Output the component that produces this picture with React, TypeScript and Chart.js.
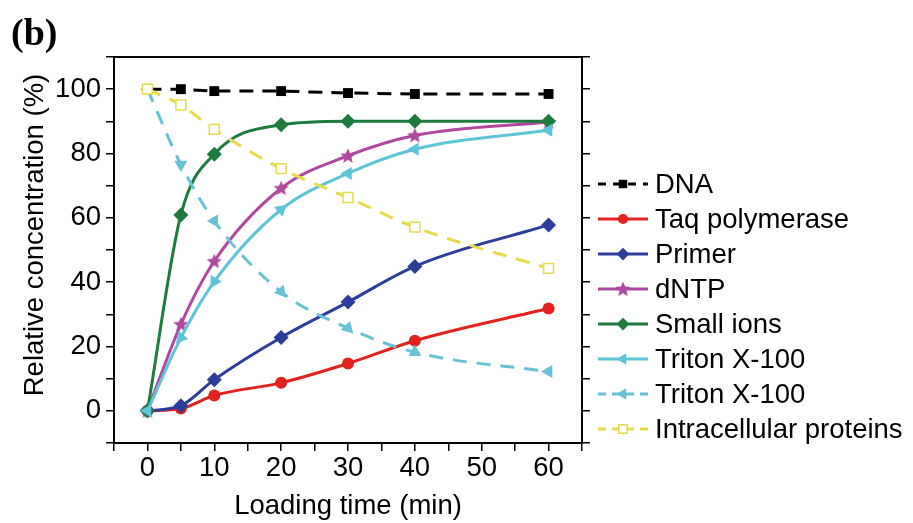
import React, { useEffect, useRef } from 'react';
import { Chart, registerables } from 'chart.js';
import { drawPoint } from 'chart.js/helpers';

Chart.register(...registerables);

const times = [0, 5, 10, 20, 30, 40, 60];
const dna = [100, 100, 99.4, 99.4, 98.8, 98.5, 98.5];
const taq = [0, 0.7, 4.8, 8.7, 14.7, 21.8, 31.8];
const primer = [0, 1.6, 9.7, 22.8, 33.8, 44.9, 57.8];
const dntp = [0, 26.9, 46.5, 69.2, 79.3, 85.6, 89.8];
const smallIons = [0, 60.9, 79.8, 88.9, 90, 90, 90];
const tritonIn = [0, 22.7, 40.2, 62.6, 73.8, 81.3, 87.2];
const tritonOut = [100, 76.6, 59, 37, 25.7, 18.2, 12.2];
const proteins = [100, 95.1, 87.5, 75.3, 66.3, 57.1, 44.3];

const seriesLabels = [
  'DNA',
  'Taq polymerase',
  'Primer',
  'dNTP',
  'Small ions',
  'Triton X-100',
  'Triton X-100',
  'Intracellular proteins',
];
const xTickLabels = [0, 10, 20, 30, 40, 50, 60];
const yTickLabels = [0, 20, 40, 60, 80, 100];
const xTitle = 'Loading time (min)';
const yTitle = 'Relative concentration (%)';
const panelLabel = '(b)';

const FONT = '"Liberation Sans", Arial, sans-serif';
const FS = 27.5;

function makeStar(color: string, r: number): HTMLCanvasElement {
  const c = document.createElement('canvas');
  const s = Math.ceil(r * 2 + 2);
  c.width = s;
  c.height = s;
  const ctx = c.getContext('2d')!;
  ctx.translate(s / 2, s / 2 + 0.5);
  ctx.beginPath();
  for (let i = 0; i < 10; i++) {
    const rad = i % 2 === 0 ? r : r * 0.45;
    const a = -Math.PI / 2 + (i * Math.PI) / 5;
    ctx.lineTo(rad * Math.cos(a), rad * Math.sin(a));
  }
  ctx.closePath();
  ctx.fillStyle = color;
  ctx.fill();
  return c;
}

const pts = (vals: number[]) => times.map((t, i) => ({ x: t, y: vals[i] }));

export default function App() {
  const ref = useRef<HTMLCanvasElement | null>(null);

  useEffect(() => {
    document.body.style.margin = '0';
    const canvas = ref.current;
    if (!canvas) return;

    const star = makeStar('#b0489f', 8);
    const LW = 3;

    const datasets: any[] = [
      {
        label: seriesLabels[0],
        data: pts(dna),
        borderColor: '#000000',
        backgroundColor: '#000000',
        pointBorderColor: '#000000',
        borderWidth: LW,
        borderDash: [14, 9],
        pointStyle: 'rect',
        pointRadius: 7,
        pointBorderWidth: 0,
        tension: 0,
        order: 5,
        legendDash: [8, 7],
      },
      {
        label: seriesLabels[1],
        data: pts(taq),
        borderColor: '#e3221d',
        backgroundColor: '#e3221d',
        pointBorderColor: '#e3221d',
        borderWidth: LW,
        pointStyle: 'circle',
        pointRadius: 6,
        pointBorderWidth: 0,
        cubicInterpolationMode: 'monotone',
        order: 7,
      },
      {
        label: seriesLabels[2],
        data: pts(primer),
        borderColor: '#2c3d9b',
        backgroundColor: '#2c3d9b',
        pointBorderColor: '#2c3d9b',
        borderWidth: LW,
        pointStyle: 'rectRot',
        pointRadius: 7.5,
        pointBorderWidth: 0,
        cubicInterpolationMode: 'monotone',
        order: 6,
      },
      {
        label: seriesLabels[3],
        data: pts(dntp),
        borderColor: '#b0489f',
        backgroundColor: '#b0489f',
        pointBorderColor: '#b0489f',
        borderWidth: LW,
        pointStyle: star,
        pointRadius: 8,
        pointBorderWidth: 0,
        cubicInterpolationMode: 'monotone',
        order: 4,
      },
      {
        label: seriesLabels[4],
        data: pts(smallIons),
        borderColor: '#1d7b3e',
        backgroundColor: '#1d7b3e',
        pointBorderColor: '#1d7b3e',
        borderWidth: LW,
        pointStyle: 'rectRot',
        pointRadius: 7.5,
        pointBorderWidth: 0,
        cubicInterpolationMode: 'monotone',
        order: 3,
      },
      {
        label: seriesLabels[5],
        data: pts(tritonIn),
        borderColor: '#5ec4d7',
        backgroundColor: '#5ec4d7',
        pointBorderColor: '#5ec4d7',
        borderWidth: LW,
        pointStyle: 'triangle',
        pointRadius: 7.5,
        pointRotation: [-90, -20, -30, -70, -90, -90, -90],
        pointBorderWidth: 0,
        cubicInterpolationMode: 'monotone',
        order: 2,
      },
      {
        label: seriesLabels[6],
        data: pts(tritonOut),
        borderColor: '#68c2d6',
        backgroundColor: '#68c2d6',
        pointBorderColor: '#68c2d6',
        borderWidth: LW,
        borderDash: [14, 10],
        pointStyle: 'triangle',
        pointRadius: 7.5,
        pointRotation: [-90, 180, 150, 140, 135, 120, -90],
        pointBorderWidth: 0,
        cubicInterpolationMode: 'monotone',
        order: 1,
        legendDash: [8, 6],
      },
      {
        label: seriesLabels[7],
        data: pts(proteins),
        borderColor: '#e6dc4a',
        backgroundColor: '#ffffff',
        pointBorderColor: '#e6dc4a',
        borderWidth: LW,
        borderDash: [14, 10],
        pointStyle: 'rect',
        pointRadius: 7,
        pointBorderWidth: 1.5,
        cubicInterpolationMode: 'monotone',
        order: 0,
        legendDash: [8, 6],
      },
    ];

    const decor = {
      id: 'decor',
      afterDraw(chart: any) {
        const { ctx, chartArea: a } = chart;
        ctx.save();
        ctx.strokeStyle = '#000';
        ctx.lineWidth = 2;
        ctx.setLineDash([]);
        ctx.strokeRect(a.left, a.top, a.right - a.left, a.bottom - a.top);

        ctx.fillStyle = '#000';
        ctx.font = 'bold 38px "Liberation Serif", "Times New Roman", serif';
        ctx.textAlign = 'left';
        ctx.textBaseline = 'alphabetic';
        ctx.fillText(panelLabel, 11, 45);

        ctx.save();
        ctx.translate(35, 235);
        ctx.rotate(-Math.PI / 2);
        ctx.font = FS + 'px ' + FONT;
        ctx.textAlign = 'center';
        ctx.textBaseline = 'middle';
        ctx.fillText(yTitle, 0, 0);
        ctx.restore();

        // legend
        const x0 = 598;
        const x1 = 648;
        const xm = 623;
        const textX = 655;
        const y0 = 184;
        const step = 35;
        chart.data.datasets.forEach((ds: any, i: number) => {
          const y = y0 + i * step;
          ctx.save();
          ctx.strokeStyle = ds.borderColor;
          ctx.lineWidth = 3;
          ctx.setLineDash(ds.legendDash || []);
          ctx.beginPath();
          ctx.moveTo(x0, y);
          ctx.lineTo(x1, y);
          ctx.stroke();
          ctx.setLineDash([]);
          ctx.fillStyle = ds.backgroundColor;
          ctx.strokeStyle = ds.pointBorderColor;
          ctx.lineWidth = ds.pointBorderWidth || 0;
          const r = ds.pointStyle === 'triangle' ? 6.5 : ds.pointRadius * 0.85;
          drawPoint(
            ctx,
            {
              pointStyle: ds.pointStyle,
              rotation: ds.pointStyle === 'triangle' ? -90 : 0,
              radius: r,
              borderWidth: ds.pointBorderWidth || 0,
            } as any,
            xm,
            y
          );
          ctx.restore();
          ctx.fillStyle = '#000';
          ctx.font = FS + 'px ' + FONT;
          ctx.textAlign = 'left';
          ctx.textBaseline = 'middle';
          ctx.fillText(ds.label, textX, y + 1);
        });
        ctx.restore();
      },
    };

    const gridOpts = {
      display: true,
      drawOnChartArea: false,
      drawTicks: true,
      tickLength: 8,
      color: '#000',
      lineWidth: 1.5,
    };

    const chart = new Chart(canvas, {
      type: 'line',
      data: { datasets },
      options: {
        animation: false,
        responsive: true,
        maintainAspectRatio: false,
        layout: { padding: { top: 57, right: 323, left: 0, bottom: 0 } },
        plugins: {
          legend: { display: false },
          tooltip: { enabled: false },
          title: { display: false },
        },
        scales: {
          x: {
            type: 'linear',
            position: 'bottom',
            min: -5,
            max: 65,
            grid: gridOpts,
            border: { display: true, color: '#000', width: 2 },
            ticks: {
              stepSize: 5,
              autoSkip: false,
              maxRotation: 0,
              padding: 1,
              color: '#000',
              font: { size: FS, family: FONT },
              callback: (v: any) => (xTickLabels.includes(Number(v)) ? String(v) : ''),
            },
            title: {
              display: true,
              text: xTitle,
              color: '#000',
              font: { size: FS, family: FONT },
              padding: { top: 0, bottom: 0 },
            },
            afterFit: (s: any) => {
              s.height = 80;
            },
          },
          y: {
            type: 'linear',
            position: 'left',
            min: -10,
            max: 110,
            grid: gridOpts,
            border: { display: true, color: '#000', width: 2 },
            ticks: {
              stepSize: 10,
              autoSkip: false,
              padding: 5,
              color: '#000',
              font: { size: FS, family: FONT },
              callback: (v: any) => (yTickLabels.includes(Number(v)) ? String(v) : ''),
            },
            afterFit: (s: any) => {
              s.width = 114;
            },
          },
          y2: {
            type: 'linear',
            position: 'right',
            min: -10,
            max: 110,
            grid: gridOpts,
            border: { display: true, color: '#000', width: 2 },
            ticks: { stepSize: 10, display: false },
            afterFit: (s: any) => {
              s.width = 8;
            },
          },
        },
      } as any,
      plugins: [decor],
    });

    return () => {
      chart.destroy();
    };
  }, []);

  return (
    <div style={{ width: 913, height: 523, position: 'relative', background: '#fff' }}>
      <canvas ref={ref} />
    </div>
  );
}
